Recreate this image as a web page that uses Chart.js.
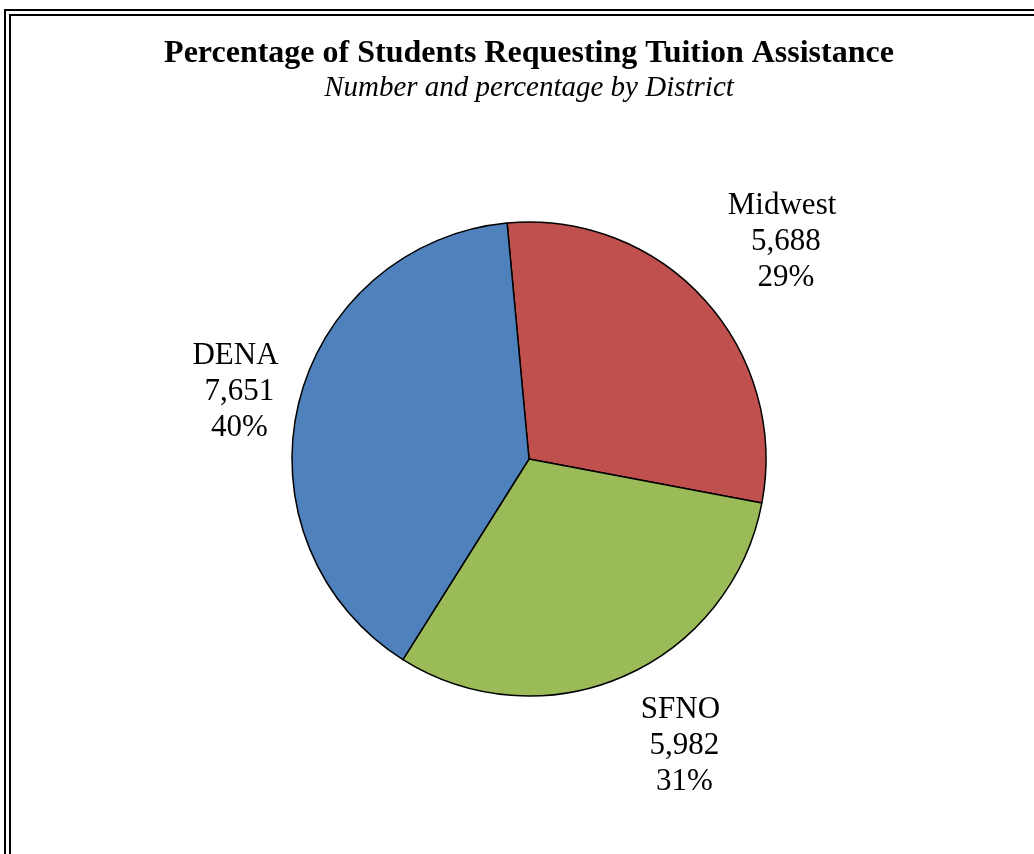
<!DOCTYPE html>
<html>
<head>
<meta charset="utf-8">
<title>Percentage of Students Requesting Tuition Assistance</title>
<script src="https://cdn.jsdelivr.net/npm/chart.js@4/dist/chart.umd.min.js"></script>
<style>
    html, body {
        margin: 0;
        padding: 0;
        background: #fff;
        overflow: hidden;
        width: 1034px;
        height: 854px;
    }
    .frame-outer {
        position: absolute;
        left: 4px;
        top: 9px;
        width: 1100px;
        height: 900px;
        border: 2px solid #000;
        box-sizing: border-box;
        padding: 3px;
    }
    .frame-inner {
        width: 100%;
        height: 100%;
        border: 2px solid #000;
        box-sizing: border-box;
    }
    #chart {
        position: absolute;
        left: 0;
        top: 0;
    }
</style>
</head>
<body>
<div class="frame-outer"><div class="frame-inner"></div></div>
<canvas id="chart" width="1058" height="854"></canvas>
<script>
// Data
const districts = ['Midwest', 'SFNO', 'DENA'];
const students = [5688, 5982, 7651];
const sliceColors = ['#C0504D', '#9BBB59', '#4F81BD'];

const SERIF = "'Liberation Serif', 'Times New Roman', serif";

/**
 * Draws "name / count / percent" labels just outside each slice
 */
const outsideLabels = {
    id: 'outsideLabels',
    afterDatasetsDraw(chart, args, opts) {
        const ctx = chart.ctx;
        const meta = chart.getDatasetMeta(0);
        const values = chart.data.datasets[0].data;
        const total = values.reduce((a, b) => a + b, 0);

        ctx.save();
        ctx.font = opts.size + 'px ' + SERIF;
        ctx.fillStyle = '#000';
        ctx.textAlign = 'center';
        ctx.textBaseline = 'middle';

        meta.data.forEach((arc, i) => {
            const p = arc.getProps(['x', 'y', 'startAngle', 'endAngle', 'outerRadius'], true);
            const mid = (p.startAngle + p.endAngle) / 2;
            const dx = Math.cos(mid);
            const dy = Math.sin(mid);

            const lines = [
                chart.data.labels[i],
                ' ' + values[i].toLocaleString('en-US'),
                ' ' + Math.round(values[i] / total * 100) + '%'
            ];
            const w = Math.max(...lines.map(l => ctx.measureText(l).width));
            const h = lines.length * opts.lineHeight;
            const nudge = opts.nudge[i] || [0, 0];

            // anchor just outside the rim, then push the box outward by half its size
            const cx = p.x + dx * (p.outerRadius + opts.gap) + dx * w / 2 + nudge[0];
            const cy = p.y + dy * (p.outerRadius + opts.gap) + dy * h / 2 + nudge[1];

            lines.forEach((line, j) => {
                ctx.fillText(line, cx, cy - h / 2 + opts.lineHeight * (j + 0.5));
            });
        });
        ctx.restore();
    }
};

Chart.defaults.font.family = SERIF;
Chart.defaults.color = '#000';

new Chart(document.getElementById('chart').getContext('2d'), {
    type: 'pie',
    data: {
        labels: districts,
        datasets: [{
            data: students,
            backgroundColor: sliceColors,
            borderColor: '#000',
            borderWidth: 1.5,
            radius: 237,
            hoverOffset: 0
        }]
    },
    options: {
        responsive: false,
        animation: false,
        rotation: -5.3,
        layout: {
            padding: { top: 0, bottom: 158, left: 0, right: 0 }
        },
        plugins: {
            legend: { display: false },
            tooltip: { enabled: false },
            title: {
                display: true,
                text: 'Percentage of Students Requesting Tuition Assistance',
                color: '#000',
                font: { size: 32, weight: 'bold', family: SERIF, lineHeight: 1.1 },
                padding: { top: 36, bottom: 0 }
            },
            subtitle: {
                display: true,
                text: 'Number and percentage by District',
                color: '#000',
                font: { size: 29, style: 'italic', family: SERIF },
                padding: { top: 0, bottom: 116 }
            },
            outsideLabels: {
                size: 31,
                lineHeight: 36,
                gap: 32,
                // small per-label shifts to sit where the original placed them
                nudge: [[14, 0], [28, -9], [10, 8]]
            }
        }
    },
    plugins: [outsideLabels]
});
</script>
</body>
</html>
